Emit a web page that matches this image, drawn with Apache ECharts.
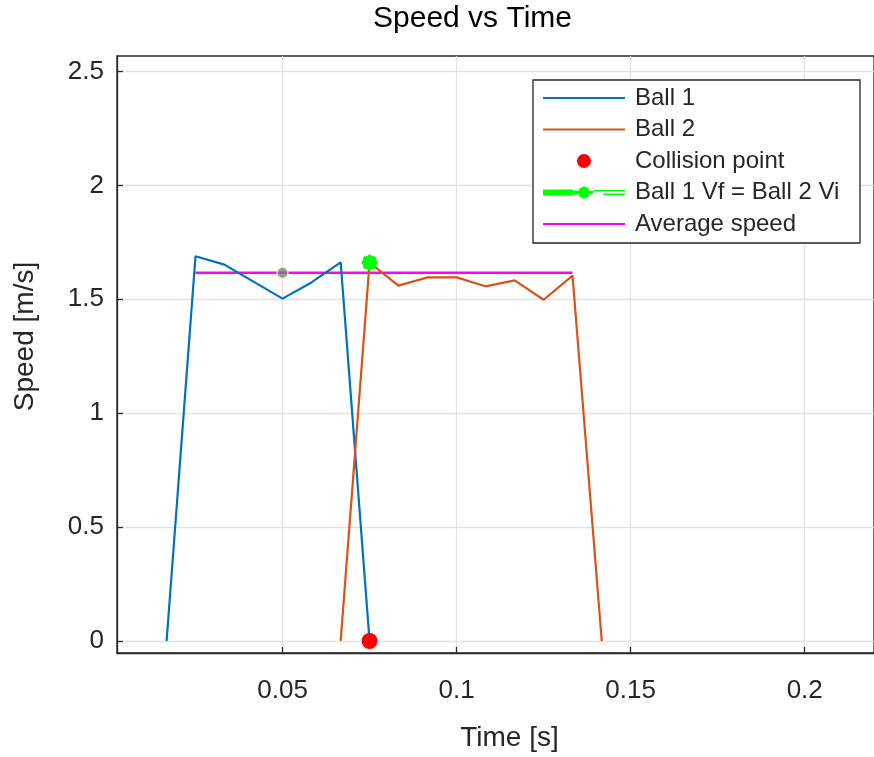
<!DOCTYPE html>
<html>
<head>
<meta charset="utf-8">
<script src="https://cdn.jsdelivr.net/npm/echarts@6/dist/echarts.min.js"></script>
<style>
  html, body { margin: 0; padding: 0; background: #ffffff; }
  #chart { width: 874px; height: 757px; }
</style>
</head>
<body>
<div id="chart"></div>
<script>
// Sample times [s] and measured speeds [m/s]
const ball1Time  = [0.0167, 0.025, 0.0333, 0.05, 0.0583, 0.0667, 0.075];
const ball1Speed = [0, 1.689, 1.652, 1.503, 1.574, 1.662, 0];

const ball2Time  = [0.0667, 0.075, 0.0833, 0.0917, 0.1, 0.1083, 0.1167, 0.125, 0.1333, 0.1417];
const ball2Speed = [0, 1.661, 1.560, 1.596, 1.596, 1.557, 1.583, 1.498, 1.604, 0];

const collisionPoint = [0.075, 0];
const transferPoint  = [0.075, 1.661];
const averageTime    = [0.025, 0.1333];
const averageSpeed   = 1.616;
const averageMarker  = [0.05, 1.616];

const xTicks = [0.05, 0.1, 0.15, 0.2];
const yTicks = [0, 0.5, 1, 1.5, 2, 2.5];
const xRange = [0.00245, 0.2199];
const yRange = [-0.0527, 2.568];

const legendNames = ['Ball 1', 'Ball 2', 'Collision point', 'Ball 1 Vf = Ball 2 Vi', 'Average speed'];

const zip = (xs, ys) => xs.map((x, i) => [x, ys[i]]);

// star outline (points, radii, centre) as raw path commands
function starCmds(points, rOut, rIn, cx, cy) {
  let d = '';
  for (let i = 0; i < points * 2; i++) {
    const r = i % 2 === 0 ? rOut : rIn;
    const a = (Math.PI * i) / points;
    const px = (cx + r * Math.sin(a)).toFixed(2);
    const py = (cy - r * Math.cos(a)).toFixed(2);
    d += (i === 0 ? 'M' : 'L') + px + ' ' + py + ' ';
  }
  return d + 'Z ';
}
const rectCmd = (x0, y0, x1, y1) => `M${x0} ${y0} L${x1} ${y0} L${x1} ${y1} L${x0} ${y1} Z `;

// legend glyphs sized 82 x 14; corner slivers pin the bounding box
const ICON_W = 82, ICON_H = 14;
const frame = rectCmd(0, 0, 0.01, 0.01) + rectCmd(ICON_W - 0.01, ICON_H - 0.01, ICON_W, ICON_H);
const lineIcon = 'path://' + frame + rectCmd(0, 6, ICON_W, 8);
const transferIcon = 'path://' + frame +
  rectCmd(0, 4, 30, 10) + rectCmd(30, 5, 41, 9) + starCmds(8, 6.5, 5.3, 41, 7) +
  rectCmd(41, 5.5, 50, 8.5) + rectCmd(50, 4.5, 82, 6) + rectCmd(60, 8, 82, 9.5);
const transferSymbol = 'path://' + starCmds(8, 10, 8.3, 10, 10);

const FONT = 'Liberation Sans';
const INK = '#262626';
const noStroke = { borderWidth: 0 };

const chart = echarts.init(document.getElementById('chart'), null, { renderer: 'canvas' });

chart.setOption({
  animation: false,
  backgroundColor: '#ffffff',
  textStyle: { fontFamily: FONT },
  title: {
    text: 'Speed vs Time',
    left: 373,
    top: 4,
    padding: 0,
    textStyle: { fontFamily: FONT, fontSize: 30, fontWeight: 'normal', color: '#000000' }
  },
  grid: {
    left: 117, top: 56, right: -1, bottom: 104,
    show: true, borderColor: INK, borderWidth: 1.3, backgroundColor: '#ffffff'
  },
  graphic: [{
    type: 'rect',
    shape: { x: 533, y: 80, width: 327, height: 163 },
    style: { fill: '#ffffff', stroke: INK, lineWidth: 1.3 },
    z: 5
  }],
  legend: {
    data: [
      { name: legendNames[0], icon: lineIcon, itemStyle: noStroke },
      { name: legendNames[1], icon: lineIcon, itemStyle: noStroke },
      { name: legendNames[2], icon: 'circle', itemStyle: noStroke },
      { name: legendNames[3], icon: transferIcon, itemStyle: noStroke },
      { name: legendNames[4], icon: lineIcon, itemStyle: noStroke }
    ],
    orient: 'vertical',
    left: 543,
    top: 86,
    padding: 0,
    itemWidth: ICON_W,
    itemHeight: ICON_H,
    itemGap: 7.5,
    z: 10,
    selectedMode: false,
    textStyle: { fontFamily: FONT, fontSize: 24, color: INK, lineHeight: 24, padding: [0, 0, 0, 5] }
  },
  xAxis: {
    type: 'value',
    min: xRange[0],
    max: xRange[1],
    name: 'Time [s]',
    nameLocation: 'middle',
    nameGap: 71,
    nameTextStyle: { fontFamily: FONT, fontSize: 28, color: INK, padding: [0, 0, 0, 28] },
    axisLine: { show: true, onZero: false, lineStyle: { color: INK, width: 1.3 } },
    axisTick: { show: true, inside: true, length: 6, customValues: xTicks, lineStyle: { color: INK, width: 1.3 } },
    axisLabel: {
      customValues: xTicks, margin: 25, fontFamily: FONT, fontSize: 26, color: INK,
      formatter: v => String(+v.toFixed(3))
    },
    splitLine: { show: true, lineStyle: { color: '#e3e3e3', width: 1.3 } }
  },
  yAxis: {
    type: 'value',
    min: yRange[0],
    max: yRange[1],
    name: 'Speed [m/s]',
    nameLocation: 'middle',
    nameGap: 78,
    nameTextStyle: { fontFamily: FONT, fontSize: 28, color: INK, padding: [0, 0, 0, 36] },
    axisLine: { show: true, onZero: false, lineStyle: { color: INK, width: 1.3 } },
    axisTick: { show: true, inside: true, length: 6, customValues: yTicks, lineStyle: { color: INK, width: 1.3 } },
    axisLabel: {
      customValues: yTicks, margin: 13, fontFamily: FONT, fontSize: 26, color: INK,
      formatter: v => String(+v.toFixed(2))
    },
    splitLine: { show: true, lineStyle: { color: '#e3e3e3', width: 1.3 } }
  },
  series: [
    {
      name: 'Ball 1', type: 'line', data: zip(ball1Time, ball1Speed),
      symbol: 'none', color: '#0072BD', lineStyle: { width: 2.2, color: '#0072BD' }, z: 3
    },
    {
      name: 'Ball 2', type: 'line', data: zip(ball2Time, ball2Speed),
      symbol: 'none', color: '#D95319', lineStyle: { width: 2.2, color: '#D95319' }, z: 3
    },
    {
      name: 'Average speed', type: 'line',
      data: averageTime.map(t => [t, averageSpeed]),
      symbol: 'none', color: '#FF00FF', lineStyle: { width: 2.5, color: '#FF00FF' }, z: 2
    },
    {
      name: 'Average marker', type: 'scatter', data: [averageMarker],
      symbol: 'circle', symbolSize: 11,
      itemStyle: { color: '#808080', borderColor: '#f3efc8', borderWidth: 1.5 }, z: 4
    },
    {
      name: 'Collision point', type: 'scatter', data: [collisionPoint],
      symbol: 'circle', symbolSize: 16, color: '#FF0000',
      itemStyle: { color: '#FF0000', opacity: 1 }, z: 6
    },
    {
      name: 'Ball 1 Vf = Ball 2 Vi', type: 'line', data: [transferPoint],
      symbol: transferSymbol, symbolSize: 16, showSymbol: true,
      color: '#00FF00',
      itemStyle: { color: '#00FF00', borderColor: '#00FF00', borderWidth: 1 },
      lineStyle: { width: 6, color: '#00FF00' }, z: 6
    }
  ]
});
</script>
</body>
</html>
